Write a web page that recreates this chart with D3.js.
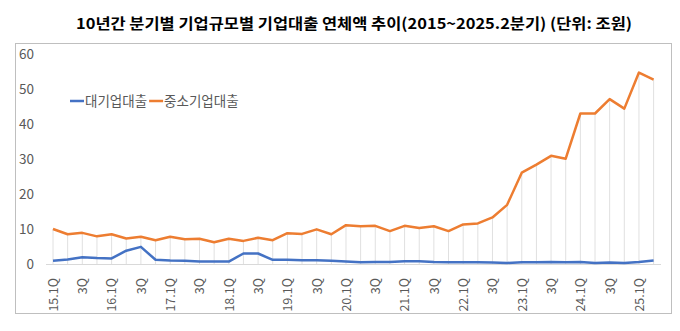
<!DOCTYPE html>
<html><head><meta charset="utf-8">
<script src="https://cdn.jsdelivr.net/npm/d3@7"></script>
<style>body{margin:0;background:#fff}svg{display:block}</style>
</head><body>
<svg id="c" width="680" height="331"></svg>
<script>
const quarters = [
 "15.1Q","15.2Q","15.3Q","15.4Q","16.1Q","16.2Q","16.3Q","16.4Q","17.1Q","17.2Q","17.3Q","17.4Q",
 "18.1Q","18.2Q","18.3Q","18.4Q","19.1Q","19.2Q","19.3Q","19.4Q","20.1Q","20.2Q","20.3Q","20.4Q",
 "21.1Q","21.2Q","21.3Q","21.4Q","22.1Q","22.2Q","22.3Q","22.4Q","23.1Q","23.2Q","23.3Q","23.4Q",
 "24.1Q","24.2Q","24.3Q","24.4Q","25.1Q","25.2Q"];
const tickLabels = quarters.map((q,i)=> i%2===0 ? (i%4===0 ? q : "3Q") : "");
const largeLoans = [0.9,1.3,1.9,1.7,1.6,3.8,4.9,1.2,1.0,0.9,0.7,0.7,0.7,3.0,3.0,1.2,1.2,1.1,1.1,0.9,0.7,0.5,0.6,0.6,0.8,0.8,0.6,0.5,0.5,0.5,0.4,0.3,0.5,0.5,0.6,0.5,0.6,0.3,0.4,0.3,0.6,1.0];
const smeLoans = [10.0,8.5,8.9,7.9,8.5,7.3,7.8,6.8,7.8,7.1,7.2,6.2,7.2,6.6,7.5,6.8,8.8,8.6,9.9,8.5,11.1,10.8,10.9,9.4,10.9,10.3,10.8,9.4,11.3,11.6,13.3,16.9,26.1,28.4,30.9,30.1,43.0,43.0,47.1,44.4,54.7,52.7];
const seriesNames = ["대기업대출","중소기업대출"];
const yTicks = [0,10,20,30,40,50,60];
const title = "10년간 분기별 기업규모별 기업대출 연체액 추이(2015~2025.2분기) (단위: 조원)";

const svg = d3.select("#c");
const font = "'Noto Sans CJK KR','Noto Sans',sans-serif";
const colors = ["#4472C4","#ED7D31"];

svg.append("rect").attr("x",15.5).attr("y",43.5).attr("width",656).attr("height",270)
  .attr("fill","none").attr("stroke","#bfbfbf").attr("stroke-width",1);

svg.append("text").attr("x",354).attr("y",29).attr("text-anchor","middle")
  .attr("font-family",font).attr("font-size",15).attr("font-weight","bold")
  .attr("textLength",556).attr("lengthAdjust","spacingAndGlyphs")
  .attr("fill","#000").text(title);

const x = d3.scalePoint().domain(quarters).range([53,653.6]);
const y = d3.scaleLinear().domain([0,60]).range([264,54]);

// y axis labels
const ya = svg.append("g").attr("transform","translate(40,0)")
  .call(d3.axisLeft(y).tickValues(yTicks).tickSize(0).tickPadding(6));
ya.select(".domain").remove();
ya.selectAll("text").attr("font-family",font).attr("font-size",13.5).attr("fill","#595959");

// drop lines
svg.append("g").selectAll("line").data(quarters).join("line")
  .attr("x1",d=>x(d)).attr("x2",d=>x(d))
  .attr("y1",(d,i)=>y(Math.max(smeLoans[i],largeLoans[i]))).attr("y2",y(0))
  .attr("stroke","#e0e0e0").attr("stroke-width",1);

// x axis
const xa = svg.append("g").attr("transform",`translate(0,${y(0)})`)
  .call(d3.axisBottom(x).tickSize(0).tickPadding(8).tickFormat((d,i)=>tickLabels[i]));
xa.select(".domain").attr("stroke","#d9d9d9").attr("d",`M46,0.5H661`);
xa.selectAll("text").attr("font-family",font).attr("font-size",12.5).attr("fill","#595959")
  .attr("transform","rotate(-90)").attr("text-anchor","end").attr("dx","-14").attr("dy","0.35em")
  .attr("x",0).attr("y",0);

const line = d3.line().x((d,i)=>x(quarters[i])).y(d=>y(d));
[largeLoans, smeLoans].forEach((s,k)=>{
  svg.append("path").datum(s).attr("d",line).attr("fill","none")
    .attr("stroke",colors[k]).attr("stroke-width",2.5).attr("stroke-linejoin","round");
});

// legend
const leg = svg.append("g").attr("transform","translate(70,101)");
let lx = 0;
seriesNames.forEach((n,k)=>{
  leg.append("line").attr("x1",lx).attr("x2",lx+14).attr("y1",0).attr("y2",0)
    .attr("stroke",colors[k]).attr("stroke-width",2.5);
  const t = leg.append("text").attr("x",lx+15).attr("y",0).attr("dy","0.35em")
    .attr("font-family",font).attr("font-size",13.5).attr("fill","#595959").text(n);
  lx += 15 + t.node().getComputedTextLength() + 2;
});
</script>
</body></html>
